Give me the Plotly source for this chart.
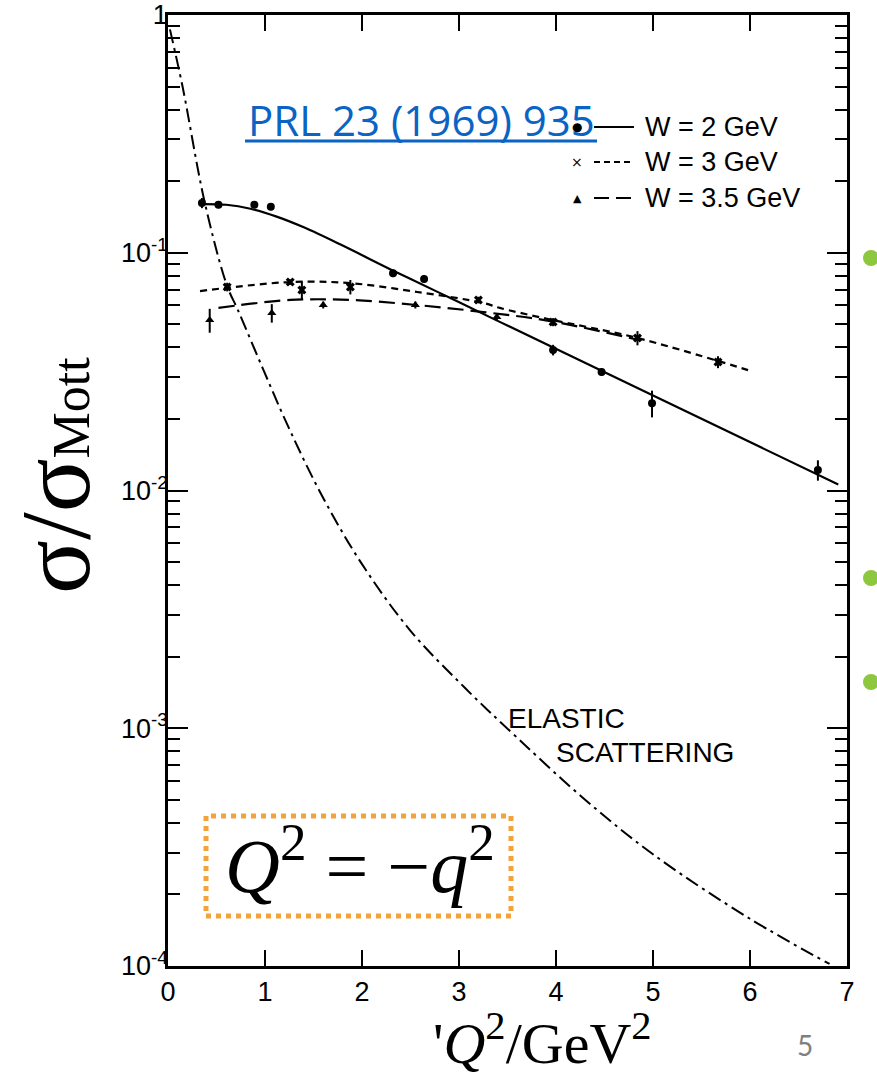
import plotly.graph_objects as go

# ---------------- data ----------------
# fitted curves
w2_line_x = [0.36, 0.60, 0.85, 1.12, 1.40, 1.80, 2.30, 2.80, 3.42, 4.99, 6.91]
w2_line_y = [0.1603, 0.1592, 0.1531, 0.1419, 0.1279, 0.1072, 0.0849, 0.0678, 0.0512, 0.0252, 0.0106]

w3_line_x = [0.33, 1.26, 1.88, 2.57, 3.25, 3.42, 3.93, 4.80, 5.98]
w3_line_y = [0.069, 0.0753, 0.0745, 0.0684, 0.0615, 0.0586, 0.0525, 0.0442, 0.0321]

w35_line_x = [0.52, 1.26, 1.88, 2.56, 3.25, 3.94, 4.85]
w35_line_y = [0.0586, 0.0633, 0.0633, 0.0603, 0.0563, 0.0516, 0.043]

elastic_x = [0.02, 0.15, 0.38, 0.61, 0.72, 0.98, 1.26, 1.60, 2.0, 2.5, 3.06, 3.6, 4.27, 5.0, 6.0, 6.82]
elastic_y = [0.87, 0.50, 0.162, 0.0724, 0.0575, 0.0324, 0.0178, 0.0093, 0.0049, 0.00257,
             0.00148, 0.000912, 0.000513, 0.000295, 0.000158, 0.000102]

# measured points
w2_x = [0.35, 0.52, 0.89, 1.06, 2.32, 2.64, 3.97, 4.47, 4.99, 6.70]
w2_y = [0.162, 0.159, 0.159, 0.156, 0.082, 0.0776, 0.039, 0.0315, 0.0233, 0.0122]
w2_err = [0.008, 0.005, 0.005, 0.005, 0.003, 0.003, 0.002, 0.0012, 0.003, 0.0012]

w3_x = [0.61, 1.26, 1.38, 1.88, 3.20, 3.97, 4.84, 5.67]
w3_y = [0.0718, 0.0753, 0.0697, 0.0718, 0.0633, 0.0511, 0.0438, 0.0347]
w3_err = [0.003, 0.002, 0.006, 0.005, 0.002, 0.002, 0.003, 0.002]

w35_x = [0.43, 1.07, 1.60, 2.55, 3.39]
w35_y = [0.0521, 0.0558, 0.0603, 0.0603, 0.0537]
w35_err = [0.006, 0.005, 0.002, 0.002, 0.002]

x_ticks = [0, 1, 2, 3, 4, 5, 6, 7]
y_ticks = [1e-4, 1e-3, 1e-2, 1e-1, 1]
y_ticktext = ["10<sup>-4</sup>", "10<sup>-3</sup>", "10<sup>-2</sup>", "10<sup>-1</sup>", "1"]
y_minor = [k * 10.0 ** e for e in range(-4, 0) for k in range(2, 10)]

legend_labels = ["W = 2 GeV", "W = 3 GeV", "W = 3.5 GeV"]

# ---------------- geometry helpers ----------------
W, H = 877, 1080
L, R, T, B = 168, 847, 15, 966


def px(x):
    return (x - L) / (R - L)


def py(y):
    return (B - y) / (B - T)


fig = go.Figure()

line_common = dict(mode="lines", line_shape="spline", showlegend=False, hoverinfo="skip")
fig.add_trace(go.Scatter(x=elastic_x, y=elastic_y, line=dict(color="black", width=2, dash="14px,5px,3px,5px"), **line_common))
fig.add_trace(go.Scatter(x=w2_line_x, y=w2_line_y, line=dict(color="black", width=2.2), **line_common))
fig.add_trace(go.Scatter(x=w3_line_x, y=w3_line_y, line=dict(color="black", width=2.2, dash="7px,5px"), **line_common))
fig.add_trace(go.Scatter(x=w35_line_x, y=w35_line_y, line=dict(color="black", width=2.2, dash="16px,7px"), **line_common))

err_style = dict(type="data", thickness=2, width=0, color="black")
fig.add_trace(go.Scatter(x=w2_x, y=w2_y, mode="markers", showlegend=False,
                         marker=dict(symbol="circle", size=8, color="black"),
                         error_y=dict(array=w2_err, **err_style)))
fig.add_trace(go.Scatter(x=w3_x, y=w3_y, mode="markers", showlegend=False,
                         marker=dict(symbol="x", size=8, color="black"),
                         error_y=dict(array=w3_err, **err_style)))
fig.add_trace(go.Scatter(x=w35_x, y=w35_y, mode="markers", showlegend=False,
                         marker=dict(symbol="triangle-up", size=8, color="black"),
                         error_y=dict(array=w35_err, **err_style)))

shapes = []
annotations = []

# legend (drawn by hand, marker left of the line sample)
rows_y = [127, 162, 198]
dashes = ["solid", "6px,4px", "15px,7px"]
glyphs = ["●", "×", "▲"]
glyph_sizes = [12, 14, 11]
for ry, d, g, gs, lab in zip(rows_y, dashes, glyphs, glyph_sizes, legend_labels):
    shapes.append(dict(type="line", xref="paper", yref="paper", x0=px(594), x1=px(634),
                       y0=py(ry), y1=py(ry), line=dict(color="black", width=2.2, dash=d)))
    annotations.append(dict(text=g, xref="paper", yref="paper", x=px(577), y=py(ry),
                            xanchor="center", yanchor="middle", showarrow=False,
                            font=dict(family="DejaVu Sans", size=gs, color="black")))
    annotations.append(dict(text=lab, xref="paper", yref="paper", x=px(643), y=py(ry),
                            xanchor="left", yanchor="middle", showarrow=False,
                            font=dict(family="Liberation Sans", size=27, color="black")))

# PRL reference (blue, underlined)
annotations.append(dict(text="PRL 23 (1969) 935", xref="paper", yref="paper", x=px(421), y=py(120),
                        xanchor="center", yanchor="middle", showarrow=False,
                        font=dict(family="Open Sans", size=42, color="#0B63C4")))
shapes.append(dict(type="line", xref="paper", yref="paper", x0=px(245), x1=px(597),
                   y0=py(141), y1=py(141), line=dict(color="#0B63C4", width=3)))

# elastic scattering label
annotations.append(dict(text="ELASTIC", xref="paper", yref="paper", x=px(506), y=py(718),
                        xanchor="left", yanchor="middle", showarrow=False,
                        font=dict(family="Liberation Sans", size=28, color="black")))
annotations.append(dict(text="SCATTERING", xref="paper", yref="paper", x=px(554), y=py(752),
                        xanchor="left", yanchor="middle", showarrow=False,
                        font=dict(family="Liberation Sans", size=28, color="black")))

# Q^2 = -q^2 box
shapes.append(dict(type="rect", xref="paper", yref="paper", x0=px(206), x1=px(511),
                   y0=py(916), y1=py(816), line=dict(color="#F2A33A", width=5, dash="dot"),
                   fillcolor="rgba(0,0,0,0)"))
annotations.append(dict(text="<i>Q</i><sup>2</sup> = −<i>q</i><sup>2</sup>", xref="paper", yref="paper",
                        x=px(360), y=py(860), xanchor="center", yanchor="middle", showarrow=False,
                        font=dict(family="Liberation Serif", size=76, color="black")))

# axis titles
annotations.append(dict(text="'<i>Q</i><sup>2</sup>/GeV<sup>2</sup>", xref="paper", yref="paper",
                        x=px(542), y=py(1039), xanchor="center", yanchor="middle", showarrow=False,
                        font=dict(family="Liberation Serif", size=58, color="black")))
annotations.append(dict(text="σ/σ<span style='font-size:52px'>Mott</span>", xref="paper", yref="paper",
                        x=px(55), y=py(476), xanchor="center", yanchor="middle", showarrow=False,
                        textangle=-90,
                        font=dict(family="Liberation Serif", size=100, color="black")))

# slide number
annotations.append(dict(text="5", xref="paper", yref="paper", x=px(805), y=py(1045),
                        xanchor="center", yanchor="middle", showarrow=False,
                        font=dict(family="Lato", size=28, color="#7F7F7F")))

# green slide-background specks at right edge
for gy in [258, 578, 682]:
    shapes.append(dict(type="circle", xref="paper", yref="paper", x0=px(863), x1=px(879),
                       y0=py(gy + 8), y1=py(gy - 8), line=dict(width=0), fillcolor="#8DC63F"))

fig.update_layout(
    width=W, height=H,
    margin=dict(l=L, r=W - R, t=T, b=H - B, pad=0),
    paper_bgcolor="white", plot_bgcolor="white",
    showlegend=False,
    shapes=shapes,
    annotations=annotations,
    xaxis=dict(range=[0, 7], tickvals=x_ticks, ticks="inside", ticklen=16, tickwidth=2,
               tickcolor="black", showline=True, linewidth=2.5, linecolor="black",
               mirror="ticks", showgrid=False, zeroline=False, automargin=False,
               tickfont=dict(family="Liberation Sans", size=27, color="black")),
    yaxis=dict(type="log", range=[-4, 0], tickvals=y_ticks, ticktext=y_ticktext,
               ticks="inside", ticklen=20, tickwidth=2, tickcolor="black",
               minor=dict(tickvals=y_minor, ticks="inside", ticklen=12, tickwidth=2,
                          tickcolor="black", showgrid=False),
               showline=True, linewidth=2.5, linecolor="black", mirror="ticks",
               showgrid=False, zeroline=False, automargin=False, ticklabelstandoff=-8,
               tickfont=dict(family="Liberation Sans", size=27, color="black")),
)

fig.write_html("out.html")
